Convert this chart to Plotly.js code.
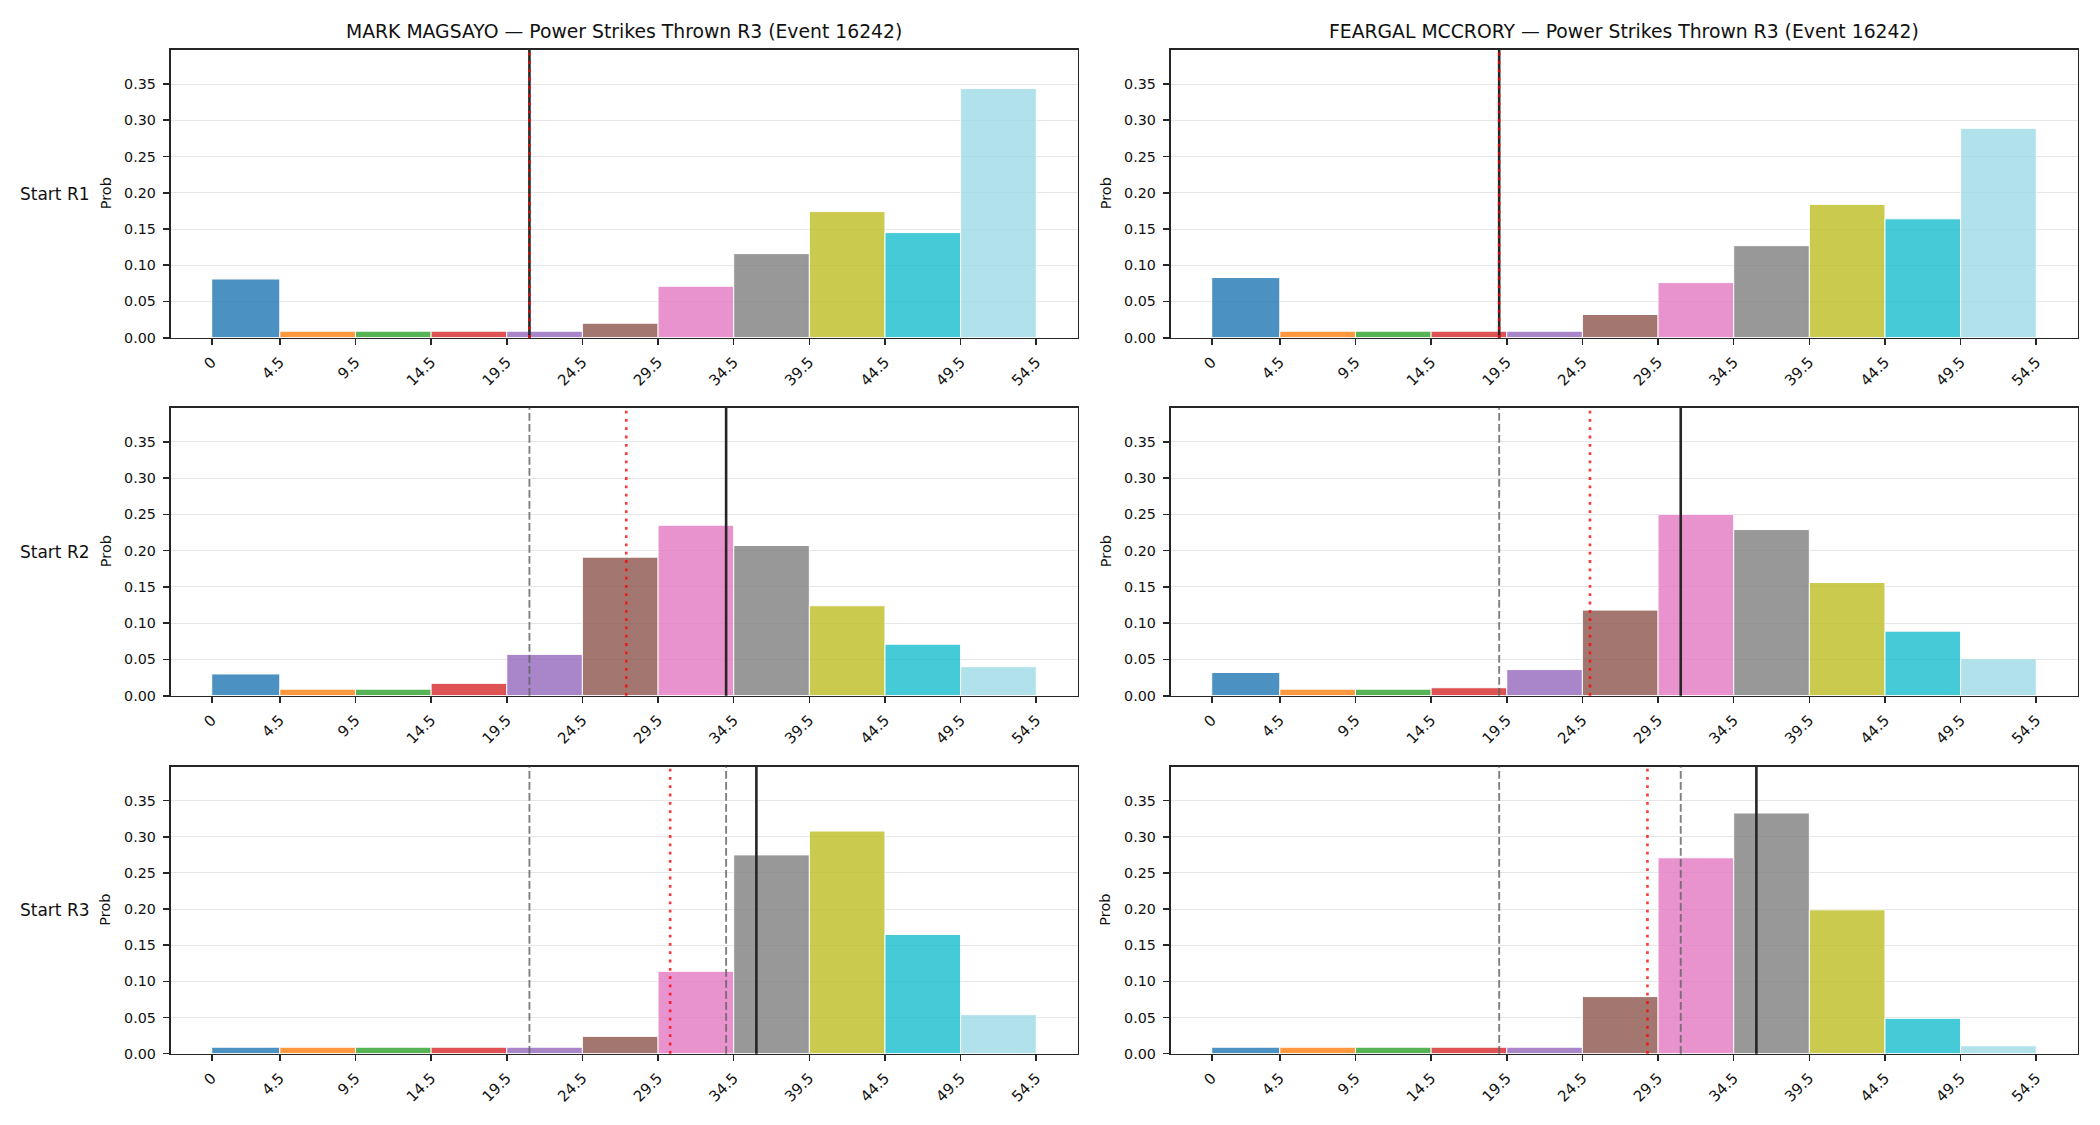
<!DOCTYPE html>
<html>
<head>
<meta charset="utf-8">
<script src="https://cdn.plot.ly/plotly-3.0.1.min.js"></script>
<style>
  html, body { margin: 0; padding: 0; background: #ffffff; }
  #chart { width: 2100px; height: 1125px; }
</style>
</head>
<body>
<div id="chart"></div>
<script>
// Bin edges of the power-strike count histogram and their tick labels
const binEdges = [0, 4.5, 9.5, 14.5, 19.5, 24.5, 29.5, 34.5, 39.5, 44.5, 49.5, 54.5];
const tickLabels = ["0", "4.5", "9.5", "14.5", "19.5", "24.5", "29.5", "34.5", "39.5", "44.5", "49.5", "54.5"];
const binColors = ["#1f77b4", "#ff7f0e", "#2ca02c", "#d62728", "#9467bd", "#8c564b",
                   "#e377c2", "#7f7f7f", "#bcbd22", "#17becf", "#9edae5"];

const fighters = ["MARK MAGSAYO", "FEARGAL MCCRORY"];
const statName = "Power Strikes Thrown R3";
const eventId = 16242;
const rowLabels = ["Start R1", "Start R2", "Start R3"];
const yLabel = "Prob";

// Predicted probability per bin, by starting round
const magsayoStartR1 = [0.081, 0.009, 0.009, 0.009, 0.009, 0.020, 0.071, 0.116, 0.174, 0.145, 0.344];
const magsayoStartR2 = [0.030, 0.009, 0.009, 0.017, 0.057, 0.191, 0.235, 0.207, 0.124, 0.071, 0.040];
const magsayoStartR3 = [0.009, 0.009, 0.009, 0.009, 0.009, 0.024, 0.114, 0.275, 0.308, 0.165, 0.054];

const mccroryStartR1 = [0.083, 0.009, 0.009, 0.009, 0.009, 0.032, 0.076, 0.127, 0.184, 0.164, 0.289];
const mccroryStartR2 = [0.032, 0.009, 0.009, 0.011, 0.036, 0.118, 0.250, 0.229, 0.156, 0.089, 0.051];
const mccroryStartR3 = [0.009, 0.009, 0.009, 0.009, 0.009, 0.079, 0.271, 0.333, 0.199, 0.049, 0.011];

// Reference marks per starting round: earlier round totals (dashed),
// running pace (dotted red) and actual count (solid)
const magsayoEarlier = [[], [21], [21, 34]];
const magsayoPace = [21, 27.4, 30.3];
const magsayoActual = [21, 34, 36];

const mccroryEarlier = [[], [19], [19, 31]];
const mccroryPace = [19, 25.0, 28.8];
const mccroryActual = [19, 31, 36];

const probs = [
  [magsayoStartR1, mccroryStartR1],
  [magsayoStartR2, mccroryStartR2],
  [magsayoStartR3, mccroryStartR3]
];
const earlierMarks = [magsayoEarlier, mccroryEarlier];
const paceMarks = [magsayoPace, mccroryPace];
const actualMarks = [magsayoActual, mccroryActual];

// Panel geometry (pixels in a 2100 x 1125 figure)
const W = 2100, H = 1125;
const colPx = [[170.5, 1077.5], [1170.5, 2077.5]];
const rowPx = [[50, 337.7], [407.7, 695.7], [766.7, 1053.7]];

const binMid = [], binWidth = [];
for (let i = 0; i < binEdges.length - 1; i++) {
  binMid.push((binEdges[i] + binEdges[i + 1]) / 2);
  binWidth.push(binEdges[i + 1] - binEdges[i]);
}
const span = binEdges[binEdges.length - 1] - binEdges[0];
const xRange = [binEdges[0] - 0.05 * span, binEdges[binEdges.length - 1] + 0.05 * span];
const yRange = [0, 0.397];

const ink = "#262626";
const font = "DejaVu Sans, sans-serif";

const traces = [];
const layout = {
  width: W, height: H,
  margin: { l: 0, r: 0, t: 0, b: 0 },
  paper_bgcolor: "#ffffff",
  plot_bgcolor: "#ffffff",
  showlegend: false,
  bargap: 0,
  font: { family: font, size: 14, color: "#111111" },
  shapes: [],
  annotations: []
};

for (let r = 0; r < 3; r++) {
  for (let c = 0; c < 2; c++) {
    const n = r * 2 + c + 1;
    const xa = n === 1 ? "x" : "x" + n;
    const ya = n === 1 ? "y" : "y" + n;
    const xKey = n === 1 ? "xaxis" : "xaxis" + n;
    const yKey = n === 1 ? "yaxis" : "yaxis" + n;

    traces.push({
      type: "bar",
      x: binMid,
      y: probs[r][c],
      width: binWidth,
      xaxis: xa, yaxis: ya,
      marker: { color: binColors, opacity: 0.8, line: { color: "#ffffff", width: 1 } },
      hoverinfo: "x+y"
    });

    layout[xKey] = {
      domain: [colPx[c][0] / W, colPx[c][1] / W],
      anchor: ya,
      range: xRange,
      tickmode: "array",
      tickvals: binEdges,
      ticktext: tickLabels,
      tickangle: -45,
      ticks: "outside", ticklen: 6, tickwidth: 1.6, tickcolor: ink,
      ticklabelstandoff: 2,
      showline: true, linecolor: ink, linewidth: 1.7, mirror: true,
      showgrid: false, zeroline: false,
      tickfont: { family: font, size: 15, color: "#111111" }
    };
    layout[yKey] = {
      domain: [1 - rowPx[r][1] / H, 1 - rowPx[r][0] / H],
      anchor: xa,
      range: yRange,
      tick0: 0, dtick: 0.05,
      tickformat: ".2f",
      ticks: "outside", ticklen: 6, tickwidth: 1.6, tickcolor: ink,
      ticklabelstandoff: 4,
      showline: true, linecolor: ink, linewidth: 1.7, mirror: true,
      showgrid: true, gridcolor: "#e6e6e6", gridwidth: 1,
      zeroline: false,
      tickfont: { family: font, size: 14.3, color: "#111111" }
    };

    // Vertical reference marks
    earlierMarks[c][r].forEach(v => {
      layout.shapes.push({
        type: "line", xref: xa, yref: ya + " domain",
        x0: v, x1: v, y0: 0, y1: 1,
        line: { color: "rgba(96,96,96,0.8)", width: 1.9, dash: "7.7px,3.3px" }
      });
    });
    layout.shapes.push({
      type: "line", xref: xa, yref: ya + " domain",
      x0: actualMarks[c][r], x1: actualMarks[c][r], y0: 0, y1: 1,
      line: { color: ink, width: 2.6 }
    });
    layout.shapes.push({
      type: "line", xref: xa, yref: ya + " domain",
      x0: paceMarks[c][r], x1: paceMarks[c][r], y0: 0, y1: 1,
      line: { color: "rgba(255,0,0,0.78)", width: 2.6, dash: "2.8px,5.5px" }
    });

    // y-axis label
    layout.annotations.push({
      xref: "paper", yref: "paper",
      x: (colPx[c][0] - 65) / W,
      y: 1 - (rowPx[r][0] + rowPx[r][1]) / 2 / H,
      xanchor: "center", yanchor: "middle",
      text: yLabel, textangle: -90, showarrow: false,
      font: { family: font, size: 14.5, color: "#111111" }
    });

    // panel titles on the top row
    if (r === 0) {
      layout.annotations.push({
        xref: "paper", yref: "paper",
        x: (colPx[c][0] + colPx[c][1]) / 2 / W,
        y: 1 - 31 / H,
        xanchor: "center", yanchor: "middle",
        text: fighters[c] + " \u2014 " + statName + " (Event " + eventId + ")",
        showarrow: false,
        font: { family: font, size: 18.8, color: "#111111" }
      });
    }
  }

  // row label
  layout.annotations.push({
    xref: "paper", yref: "paper",
    x: 91.5 / W,
    y: 1 - (rowPx[r][0] + rowPx[r][1]) / 2 / H,
    xanchor: "right", yanchor: "middle",
    text: rowLabels[r], showarrow: false,
    font: { family: font, size: 17, color: "#111111" }
  });
}

Plotly.newPlot("chart", traces, layout, { staticPlot: true, displayModeBar: false });
</script>
</body>
</html>
